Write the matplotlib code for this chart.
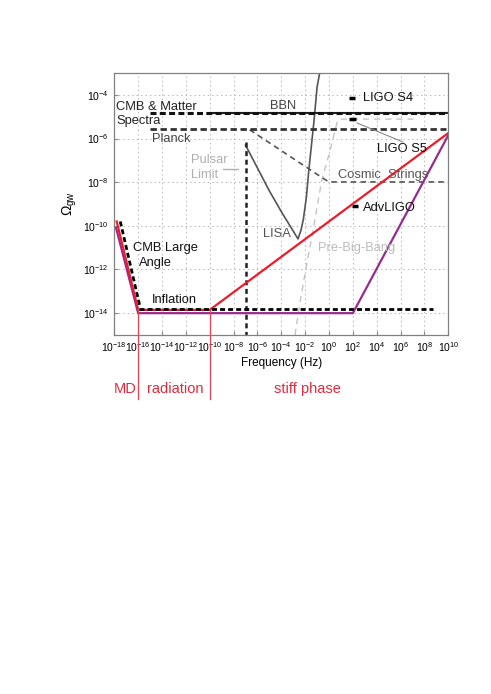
import numpy as np
import matplotlib.pyplot as plt
import matplotlib.transforms as mtransforms
from matplotlib.ticker import FixedLocator, NullLocator, LogFormatterSciNotation

plt.rcParams['font.family'] = ['Liberation Sans', 'DejaVu Sans']
plt.rcParams['lines.scale_dashes'] = False

# everything below is log10(frequency / Hz) and log10(Omega_gw)
red_f = [-17.8, -16.0, -10.0, 10.0]
red_om = [-9.8, -13.85, -13.85, -5.75]

purple_f = [-17.85, -16.0, 2.0, 10.0]
purple_om = [-10.1, -14.0, -14.0, -5.85]

cmb_large_f = [-17.5, -15.85]
cmb_large_om = [-9.8, -13.7]

inflation_f = [-15.9, 8.7]
inflation_om = [-13.8, -13.8]

cmb_matter_f = [-15.0, 10.0]
cmb_matter_om = [-4.85, -4.85]

bbn_f = [-10.0, 10.0]
bbn_om = [-4.85, -4.85]

planck_f = [-15.0, 9.8]
planck_om = [-5.57, -5.57]

pulsar_f = [-7.0, -7.0]
pulsar_om = [-6.15, -15.0]

pulsar_mark_f = [-8.9, -7.6]
pulsar_mark_om = [-7.4, -7.4]

lisa_f = [-7.0, -6.0, -5.0, -4.0, -3.0, -2.6, -2.35, -2.15, -1.9, -1.7, -1.25, -1.0, -0.75]
lisa_om = [-6.3, -7.35, -8.4, -9.35, -10.24, -10.6, -10.2, -9.7, -8.7, -7.5, -5.15, -3.65, -2.9]

strings_f = [-6.65, -0.5, 0.0, 10.0]
strings_om = [-5.6, -7.82, -7.99, -7.99]

pbb_f = [-2.85, -2.4, -1.85, -1.43, -0.9, -0.6, 0.1, 0.7, 0.95, 7.4]
pbb_om = [-15.0, -13.4, -11.7, -10.5, -8.82, -7.9, -6.53, -5.2, -5.11, -5.11]

ligo_s4_f = [1.7, 2.2]
ligo_s4_om = [-4.16, -4.16]
ligo_s5_f = [1.7, 2.25]
ligo_s5_om = [-5.12, -5.12]
adv_ligo_f = [1.9, 2.4]
adv_ligo_om = [-9.09, -9.09]

s5_pointer_f = [2.35, 6.2]
s5_pointer_om = [-5.29, -6.16]

# text labels: (text, log f, log Omega, colour)
labels = [
    ("CMB & Matter", -17.86, -4.56, "#222222"),
    ("Spectra", -17.86, -5.2, "#222222"),
    ("Planck", -14.84, -6.02, "#444444"),
    ("Pulsar", -11.6, -6.99, "#b0b0b0"),
    ("Limit", -11.6, -7.67, "#b0b0b0"),
    ("BBN", -4.95, -4.51, "#444444"),
    ("LIGO S4", 2.82, -4.16, "#111111"),
    ("LIGO S5", 4.05, -6.5, "#111111"),
    ("Cosmic  Strings", 0.78, -7.67, "#555555"),
    ("AdvLIGO", 2.82, -9.2, "#111111"),
    ("LISA", -5.56, -10.38, "#555555"),
    ("Pre-Big-Bang", -0.9, -11.03, "#bbbbbb"),
    ("CMB Large", -16.46, -11.03, "#111111"),
    ("Angle", -15.9, -11.69, "#111111"),
    ("Inflation", -14.87, -13.4, "#111111"),
]

# eras marked under the axis
era_edges = [-16.0, -10.0]
era_names = ["MD", "radiation", "stiff phase"]
era_centres_px = [125, 175, 307]

red = "#ec1c2a"
purple = "#9a2b8e"


def p(v):
    return 10.0 ** np.array(v)


fig = plt.figure(figsize=(4.91, 6.94), dpi=100)
ax = fig.add_axes([0.2328, 0.5173, 0.6802, 0.3775])
ax.set_xscale('log')
ax.set_yscale('log')
ax.set_xlim(1e-18, 1e10)
ax.set_ylim(1e-15, 1e-3)

ax.plot(p(pbb_f), p(pbb_om), color="#c4c4c4", lw=1.0, dashes=(4.5, 3.5))
ax.plot(p(strings_f), p(strings_om), color="#555555", lw=1.2, dashes=(4, 3))
ax.plot(p(lisa_f), p(lisa_om), color="#555555", lw=1.2)
ax.plot(p(pulsar_f), p(pulsar_om), color="#222222", lw=1.8, dashes=(3.6, 2.6))
ax.plot(p(pulsar_mark_f), p(pulsar_mark_om), color="#b0b0b0", lw=1.0)
ax.plot(p(bbn_f), p(bbn_om), color="#222222", lw=1.5)
ax.plot(p(cmb_matter_f), p(cmb_matter_om), color="#111111", lw=2.2, dashes=(4.3, 2.4))
ax.plot(p(planck_f), p(planck_om), color="#333333", lw=2.0, dashes=(4.6, 2.6))
ax.plot(p(s5_pointer_f), p(s5_pointer_om), color="#888888", lw=0.8)
for f, om in [(ligo_s4_f, ligo_s4_om), (ligo_s5_f, ligo_s5_om), (adv_ligo_f, adv_ligo_om)]:
    ax.plot(p(f), p(om), color="black", lw=2.5, solid_capstyle='butt')

ax.plot(p(purple_f), p(purple_om), color=purple, lw=1.6)
ax.plot(p(red_f), p(red_om), color=red, lw=1.6)
ax.plot(p(inflation_f), p(inflation_om), color="black", lw=2.0, dashes=(3.6, 2.2))
ax.plot(p(cmb_large_f), p(cmb_large_om), color="black", lw=2.0, dashes=(3.6, 2.2))

for txt, lf, lo, col in labels:
    ax.text(10.0 ** lf, 10.0 ** lo, txt, color=col, fontsize=9.3, ha='left', va='center')

# era boundaries drawn down below the axis
trans = mtransforms.blended_transform_factory(ax.transData, ax.transAxes)
for e in era_edges:
    ax.plot([10.0 ** e, 10.0 ** e], [0.1, -0.245], color="#e8404e", lw=0.9,
            transform=trans, clip_on=False)
for name, xc in zip(era_names, era_centres_px):
    fig.text(xc / 491, 1 - 389 / 694, name, color="#e8283a", fontsize=10.5,
             ha='center', va='center')

ax.xaxis.set_major_locator(FixedLocator(p(np.arange(-18, 11, 2))))
ax.yaxis.set_major_locator(FixedLocator(p(np.arange(-14, -3, 2))))
ax.xaxis.set_minor_locator(NullLocator())
ax.yaxis.set_minor_locator(NullLocator())
ax.xaxis.set_major_formatter(LogFormatterSciNotation())
ax.yaxis.set_major_formatter(LogFormatterSciNotation())
ax.tick_params(direction='in', length=3, color="#888888", labelsize=7.5, pad=4)
ax.grid(True, color="#b5b5b5", lw=0.7, linestyle=(0, (1, 2.2)))
for s in ax.spines.values():
    s.set_color("#808080")
    s.set_linewidth(0.9)

ax.set_xlabel("Frequency (Hz)", fontsize=8.5, labelpad=2)
ax.set_ylabel(r"$\mathregular{\Omega_{gw}}$", fontsize=10, labelpad=3)

fig.savefig("out.png", dpi=100)
plt.close()
